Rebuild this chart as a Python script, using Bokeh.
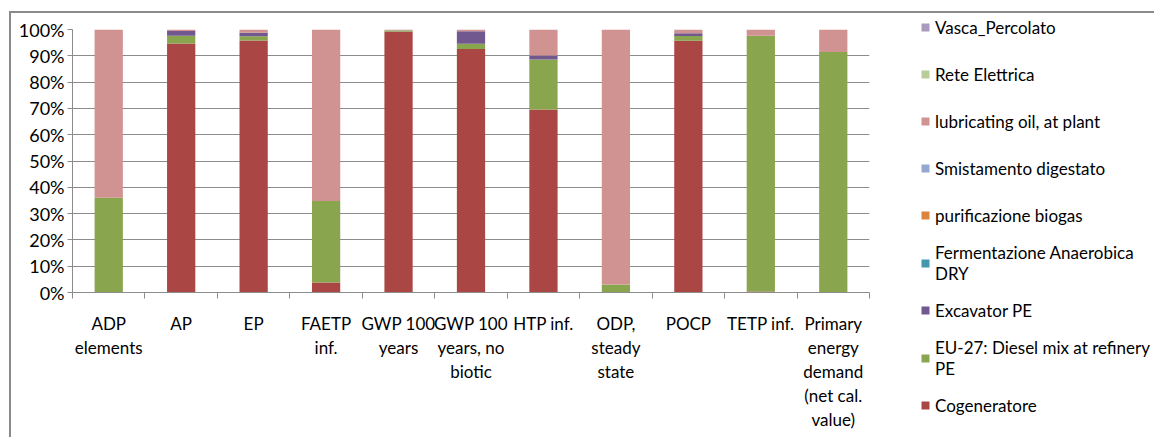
from bokeh.plotting import figure
from bokeh.layouts import row
from bokeh.models import (Range1d, FixedTicker, PrintfTickFormatter, CustomJSTickFormatter,
                          Legend, LegendItem)
from bokeh.embed import file_html
from bokeh.resources import INLINE

# Impact categories (x axis), wrapped as they appear under the bars
categories = [
    "ADP\nelements", "AP", "EP", "FAETP\ninf.", "GWP 100\nyears",
    "GWP 100\nyears, no\nbiotic", "HTP inf.", "ODP,\nsteady\nstate", "POCP",
    "TETP inf.", "Primary\nenergy\ndemand\n(net cal.\nvalue)",
]

# Share of each process in every impact category (%), stacked bottom to top
cogeneratore = [0, 94.7, 95.8, 3.8, 99.1, 92.6, 69.6, 0, 95.7, 0.4, 0]
diesel_eu27 = [36.0, 2.9, 1.6, 31.0, 0.5, 2.0, 19.0, 3.0, 1.8, 97.2, 91.4]
excavator_pe = [0, 1.8, 1.4, 0, 0.1, 4.7, 1.5, 0, 1.1, 0, 0]
fermentazione = [0, 0, 0, 0, 0, 0, 0, 0, 0, 0, 0]
purificazione = [0, 0, 0, 0, 0, 0, 0, 0, 0, 0, 0]
smistamento = [0, 0, 0, 0, 0, 0, 0, 0, 0, 0, 0]
lubricating_oil = [64.0, 0.6, 1.2, 65.2, 0.3, 0.7, 9.9, 97.0, 1.4, 2.4, 8.6]
rete_elettrica = [0, 0, 0, 0, 0, 0, 0, 0, 0, 0, 0]
vasca_percolato = [0, 0, 0, 0, 0, 0, 0, 0, 0, 0, 0]

series_names = [
    "Cogeneratore", "EU-27: Diesel mix at refinery\nPE", "Excavator PE",
    "Fermentazione Anaerobica\nDRY", "purificazione biogas", "Smistamento digestato",
    "lubricating oil, at plant", "Rete Elettrica", "Vasca_Percolato",
]
series_values = [
    cogeneratore, diesel_eu27, excavator_pe, fermentazione, purificazione,
    smistamento, lubricating_oil, rete_elettrica, vasca_percolato,
]
colors = ["#AA4643", "#89A54E", "#71588F", "#4198AF", "#DB843D",
          "#93A9CF", "#D19392", "#B9CD96", "#A99BBD"]

y_ticks = [0, 10, 20, 30, 40, 50, 60, 70, 80, 90, 100]

FONT = "Lato"
GRID = "#8C8C8C"
BORDER = 2

n = len(categories)
centers = [i + 0.5 for i in range(n)]
bounds = [i for i in range(n + 1)]
keys = ["s%d" % k for k in range(len(series_names))]
source = {"x": centers}
for k, vals in zip(keys, series_values):
    source[k] = vals

# page geometry: grey frame at (9, 11); plot area 72..869 x 29..292
OX, OY = 9 + BORDER, 11 + BORDER
SPLIT = 880                      # where the legend panel begins
H = 437 - OY

p = figure(width=SPLIT - OX, height=H, output_backend="svg", toolbar_location=None,
           x_range=Range1d(0, n), y_range=Range1d(0, 100),
           min_border_left=72 - OX, min_border_right=SPLIT - 869,
           min_border_top=29 - OY, min_border_bottom=437 - 292)
p.frame_align = False
p.outline_line_color = None
p.background_fill_color = "white"
p.border_fill_color = "white"

renderers = p.vbar_stack(keys, x="x", width=0.39, source=source, color=colors,
                         line_color=None)

# y axis: percentages
p.yaxis.ticker = FixedTicker(ticks=y_ticks)
p.yaxis.formatter = PrintfTickFormatter(format="%d%%")
p.yaxis.axis_line_color = GRID
p.yaxis.major_tick_line_color = GRID
p.yaxis.major_tick_out = 5
p.yaxis.major_tick_in = 0
p.yaxis.minor_tick_line_color = None
p.yaxis.major_label_standoff = 3
p.yaxis.major_label_text_font = FONT
p.yaxis.major_label_text_font_size = "18px"
p.yaxis.major_label_text_color = "black"

# x axis: labels at bar centres, tick marks between categories
p.xaxis.ticker = FixedTicker(ticks=centers, minor_ticks=bounds)
p.xaxis.formatter = CustomJSTickFormatter(args=dict(labels=categories),
                                          code="return labels[Math.floor(tick)] || ''")
p.xaxis.axis_line_color = GRID
p.xaxis.major_tick_line_color = None
p.xaxis.major_tick_out = 0
p.xaxis.major_tick_in = 0
p.xaxis.minor_tick_line_color = GRID
p.xaxis.minor_tick_out = 6
p.xaxis.minor_tick_in = 0
p.xaxis.major_label_standoff = 14
p.xaxis.major_label_text_font = FONT
p.xaxis.major_label_text_font_size = "17px"
p.xaxis.major_label_text_color = "black"
p.xaxis.major_label_text_line_height = 1.15

p.xgrid.grid_line_color = None
p.ygrid.ticker = FixedTicker(ticks=y_ticks)
p.ygrid.grid_line_color = GRID
p.ygrid.grid_line_width = 1

# legend panel: its own stacked renderers sit outside the visible x range,
# so only the legend entries show
lg = figure(width=1154 - SPLIT, height=H, output_backend="svg", toolbar_location=None,
            x_range=Range1d(-20, -19), y_range=Range1d(0, 100),
            x_axis_type=None, y_axis_type=None,
            min_border_left=0, min_border_right=0, min_border_top=0, min_border_bottom=0)
lg.frame_align = False
lg.outline_line_color = None
lg.xgrid.visible = False
lg.ygrid.visible = False
lg.background_fill_color = "white"
lg.border_fill_color = "white"
legend_renderers = lg.vbar_stack(keys, x="x", width=0.39, source=source, color=colors,
                                 line_color=None)

ROW_H, ROW_GAP = 41, 6
legend_h = len(series_names) * ROW_H + (len(series_names) - 1) * ROW_GAP
first_row_top = 29 - ROW_H / 2 - OY
legend = Legend(
    items=[LegendItem(label=name, renderers=[r])
           for name, r in reversed(list(zip(series_names, legend_renderers)))],
    location=(920 - SPLIT, H - first_row_top - legend_h),
    padding=0, margin=0, spacing=ROW_GAP,
    border_line_color=None, background_fill_alpha=0,
    glyph_width=10, glyph_height=10, label_standoff=5, label_height=ROW_H,
    label_text_font=FONT, label_text_font_size="17px", label_text_color="black",
    label_text_line_height=1.3,
)
lg.add_layout(legend, "center")

page = row(p, lg, margin=(11, 0, 0, 9),
           styles={"border-left": "%dpx solid #8A8A8A" % BORDER,
                   "border-top": "%dpx solid #8A8A8A" % BORDER})

open("out.html", "w").write(file_html(page, INLINE))
